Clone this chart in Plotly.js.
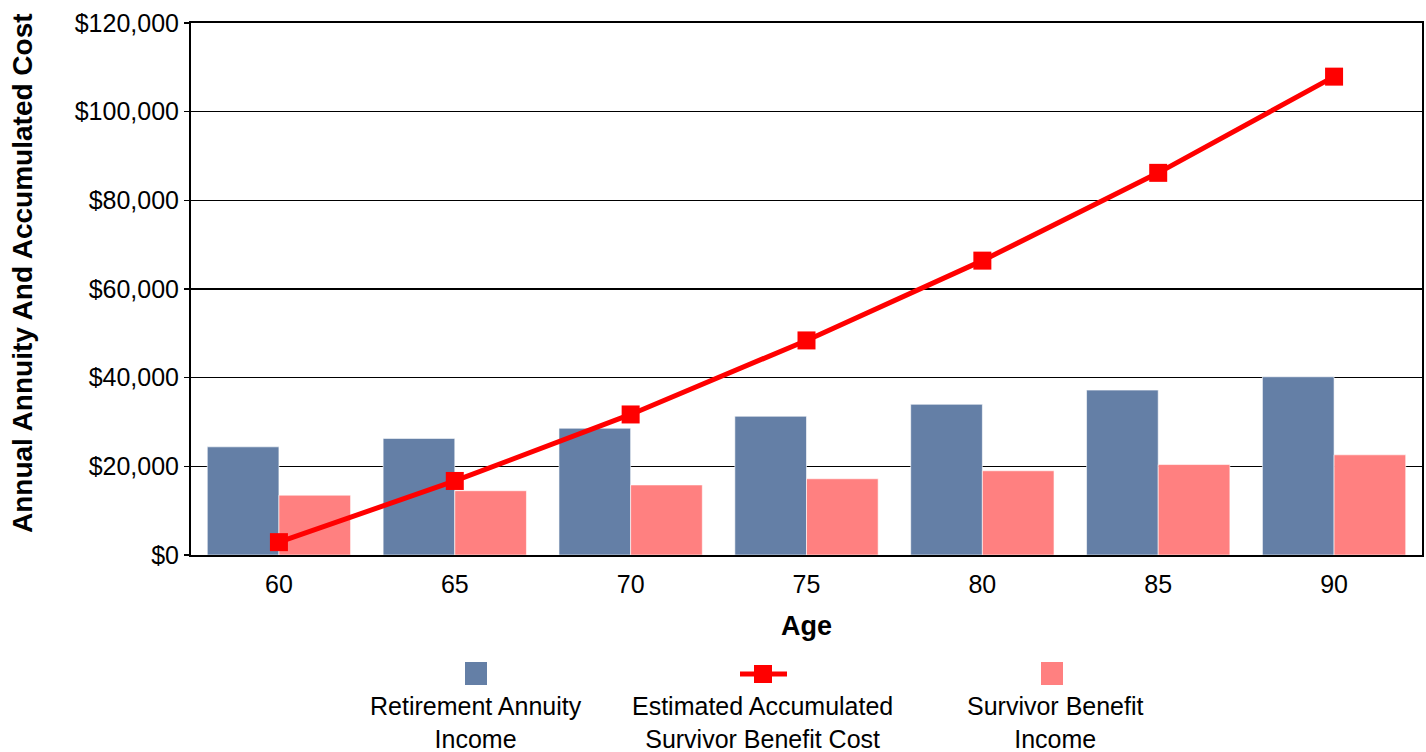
<!DOCTYPE html>
<html>
<head>
<meta charset="utf-8">
<script src="https://cdn.plot.ly/plotly-3.0.1.min.js"></script>
<style>html,body{margin:0;padding:0;background:#fff;}#chart{width:1426px;height:752px;}</style>
</head>
<body>
<div id="chart"></div>
<script>
const ages = ['60', '65', '70', '75', '80', '85', '90'];
const retirementAnnuity = [24400, 26300, 28600, 31300, 34000, 37200, 40200];
const survivorBenefit = [13500, 14500, 15800, 17200, 19000, 20400, 22600];
const accumulatedCost = [2900, 16700, 31700, 48400, 66400, 86200, 107900];

const seriesNames = ['Retirement Annuity<br>Income', 'Estimated Accumulated<br>Survivor Benefit Cost', 'Survivor Benefit<br>Income'];
const yTitle = 'Annual Annuity And Accumulated Cost';
const xTitle = 'Age';
const blue = 'rgb(100,127,166)';
const pink = 'rgb(255,128,128)';
const red = 'rgb(255,0,0)';
const font = 'Liberation Sans, Arial, sans-serif';

const traces = [
  {type: 'bar', x: ages, y: retirementAnnuity, name: 'Retirement Annuity Income',
   marker: {color: blue, line: {color: 'rgba(255,255,255,0.6)', width: 1}}},
  {type: 'bar', x: ages, y: survivorBenefit, name: 'Survivor Benefit Income',
   marker: {color: pink, line: {color: 'rgba(255,255,255,0.6)', width: 1}}},
  {type: 'scatter', mode: 'lines+markers', x: ages, y: accumulatedCost, name: 'Estimated Accumulated Survivor Benefit Cost',
   line: {color: red, width: 5}, marker: {symbol: 'square', size: 18, color: red}}
];

// legend drawn below the plot (symbol above text, as in the reference)
const L = 191, W = 1231, B = 555, H = 532;
const px = v => (v - L) / W;
const py = v => (B - v) / H;
const legendCenters = [476, 762, 1055];
const shapes = [
  {type: 'rect', xref: 'paper', yref: 'paper', x0: px(465), x1: px(487), y0: py(685), y1: py(662), fillcolor: blue, line: {width: 0}},
  {type: 'rect', xref: 'paper', yref: 'paper', x0: px(1041), x1: px(1063), y0: py(685), y1: py(662), fillcolor: pink, line: {width: 0}},
  {type: 'line', xref: 'paper', yref: 'paper', x0: px(740), x1: px(787), y0: py(674), y1: py(674), line: {color: red, width: 5}},
  {type: 'rect', xref: 'paper', yref: 'paper', x0: px(754), x1: px(772), y0: py(683), y1: py(665), fillcolor: red, line: {width: 0}}
];
const annotations = legendCenters.map((c, i) => ({
  xref: 'paper', yref: 'paper', x: px(c), y: py(690), xanchor: 'center', yanchor: 'top',
  text: seriesNames[i], showarrow: false, align: 'center',
  font: {family: font, size: 25, color: '#000'}
}));
annotations.push({
  xref: 'paper', yref: 'paper', x: px(22), y: py(273), xanchor: 'center', yanchor: 'middle',
  text: yTitle, textangle: -90, showarrow: false,
  font: {family: font, size: 28, color: '#000', weight: 'bold'}
});

const layout = {
  width: 1426, height: 752,
  margin: {l: 191, r: 4, t: 23, b: 197},
  paper_bgcolor: '#fff', plot_bgcolor: '#fff',
  barmode: 'group', bargap: 0.185, bargroupgap: 0,
  showlegend: false,
  font: {family: font, size: 25, color: '#000'},
  xaxis: {
    type: 'category', showgrid: false, showline: true, linecolor: '#000', linewidth: 2, mirror: true,
    ticks: '', ticklabelstandoff: 6, tickfont: {family: font, size: 25, color: '#000'},
    title: {text: xTitle, font: {family: font, size: 27, color: '#000', weight: 'bold'}, standoff: 19},
    automargin: false
  },
  yaxis: {
    range: [0, 120000], dtick: 20000, tickprefix: '$', tickformat: ',d',
    showgrid: true, gridcolor: '#000', gridwidth: 1.5, zeroline: false,
    showline: true, linecolor: '#000', linewidth: 2, mirror: true,
    ticks: 'outside', ticklen: 5, tickcolor: '#000', tickwidth: 1.5,
    tickfont: {family: font, size: 25, color: '#000'},
    automargin: false
  },
  shapes: shapes,
  annotations: annotations
};

Plotly.newPlot('chart', traces, layout, {displayModeBar: false, staticPlot: true});
</script>
</body>
</html>
